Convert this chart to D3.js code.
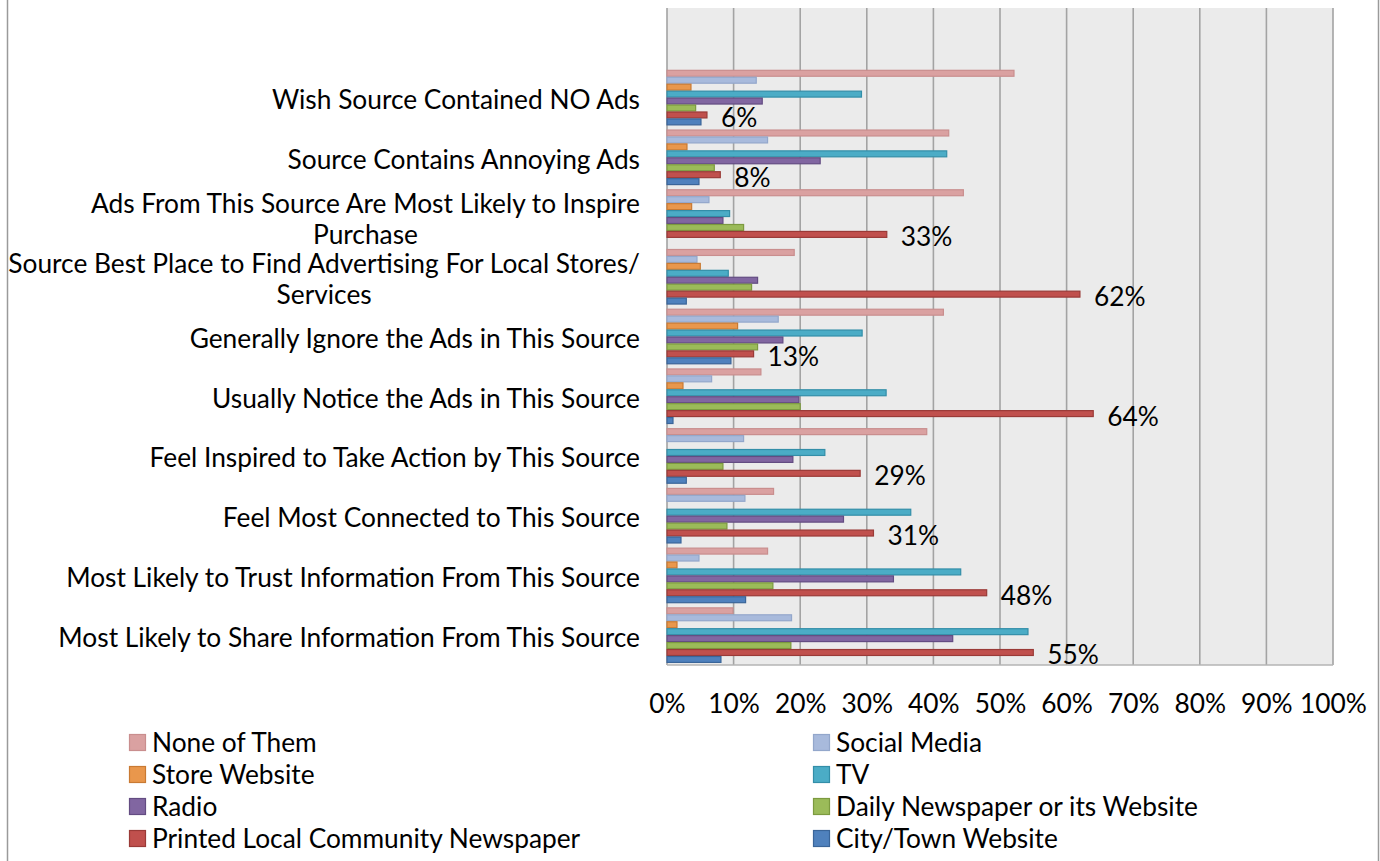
<!DOCTYPE html>
<html>
<head>
<meta charset="utf-8">
<script src="https://cdn.jsdelivr.net/npm/d3@7/dist/d3.min.js"></script>
<style>
  html, body { margin: 0; padding: 0; background: #fff; }
  svg { display: block; }
  text { font-family: Lato, "Open Sans", sans-serif; fill: #000; }
</style>
</head>
<body>
<svg id="chart" width="1380" height="861"></svg>
<script>
// Survey statements (top to bottom)
const categories = [
  "Wish Source Contained NO Ads",
  "Source Contains Annoying Ads",
  "Ads From This Source Are Most Likely to Inspire Purchase",
  "Source Best Place to Find Advertising For Local Stores/ Services",
  "Generally Ignore the Ads in This Source",
  "Usually Notice the Ads in This Source",
  "Feel Inspired to Take Action by This Source",
  "Feel Most Connected to This Source",
  "Most Likely to Trust Information From This Source",
  "Most Likely to Share Information From This Source"
];

// Wrapped lines for the long statements
const categoryLines = [
  ["Wish Source Contained NO Ads"],
  ["Source Contains Annoying Ads"],
  ["Ads From This Source Are Most Likely to Inspire", "Purchase"],
  ["Source Best Place to Find Advertising For Local Stores/", "Services"],
  ["Generally Ignore the Ads in This Source"],
  ["Usually Notice the Ads in This Source"],
  ["Feel Inspired to Take Action by This Source"],
  ["Feel Most Connected to This Source"],
  ["Most Likely to Trust Information From This Source"],
  ["Most Likely to Share Information From This Source"]
];

const seriesNames = [
  "None of Them", "Social Media", "Store Website", "TV",
  "Radio", "Daily Newspaper or its Website",
  "Printed Local Community Newspaper", "City/Town Website"
];

// Percent of respondents, one value per statement
const noneOfThem     = [52.1, 42.3, 44.5, 19.1, 41.5, 14.1, 39.0, 16.0, 15.1,  9.9];
const socialMedia    = [13.4, 15.1,  6.3,  4.5, 16.7,  6.7, 11.5, 11.7,  4.8, 18.7];
const storeWebsite   = [ 3.6,  3.0,  3.7,  5.0, 10.6,  2.4,  0.0,  0.0,  1.5,  1.5];
const tv             = [29.2, 42.0,  9.4,  9.2, 29.3, 32.9, 23.7, 36.6, 44.1, 54.2];
const radio          = [14.3, 23.0,  8.4, 13.6, 17.4, 19.8, 18.9, 26.5, 34.0, 42.9];
const dailyNewspaper = [ 4.3,  7.1, 11.5, 12.7, 13.6, 20.0,  8.4,  9.0, 15.9, 18.6];
const printedLocal   = [ 6,    8,   33,   62,   13,   64,   29,   31,   48,   55];
const cityTown       = [ 5.1,  4.8,  0.0,  2.9,  9.6,  0.9,  2.9,  2.1, 11.8,  8.1];

const seriesValues = [noneOfThem, socialMedia, storeWebsite, tv, radio,
                      dailyNewspaper, printedLocal, cityTown];

const xTicks = [0, 10, 20, 30, 40, 50, 60, 70, 80, 90, 100];

const fills   = ["#daa1a1", "#a8badc", "#e9974c", "#4bacc6", "#8166a1", "#9bbb59", "#c0504d", "#4f81bd"];
const strokes = ["#c98e8e", "#93a7cb", "#c97a33", "#338ea8", "#634c82", "#7c9a3f", "#9a3a37", "#3a6599"];

// Only the community newspaper series carries data labels
const labelledSeries = 6;

const svg = d3.select("#chart");
const W = 1380, H = 861;
const plot = { left: 667, right: 1333, top: 8, bottom: 665 };
const FONT = 26.3;

// Chart-area frame (left and right edges visible)
svg.append("rect")
  .attr("x", 7.5).attr("y", -20)
  .attr("width", 1371).attr("height", H + 40)
  .attr("fill", "#fff").attr("stroke", "#9a9a9a").attr("stroke-width", 1.5);

const x = d3.scaleLinear().domain([0, 100]).range([plot.left, plot.right]);

// One empty slot sits above the first statement
const slots = [""].concat(categories);
const y = d3.scaleBand().domain(slots).range([plot.top, plot.bottom]).padding(0);
const ySeries = d3.scaleBand().domain(seriesNames)
  .range([0, y.bandwidth()]).paddingInner(0).paddingOuter(0.3);

// Plot background
svg.append("rect")
  .attr("x", plot.left).attr("y", plot.top)
  .attr("width", plot.right - plot.left).attr("height", plot.bottom - plot.top)
  .attr("fill", "#ebebeb");

// Vertical gridlines
svg.append("g")
  .selectAll("line")
  .data(xTicks)
  .join("line")
  .attr("x1", d => x(d)).attr("x2", d => x(d))
  .attr("y1", plot.top).attr("y2", plot.bottom)
  .attr("stroke", "#a3a3a3").attr("stroke-width", 1.6);

// Bottom edge of the plot
svg.append("line")
  .attr("x1", plot.left).attr("x2", plot.right)
  .attr("y1", plot.bottom).attr("y2", plot.bottom)
  .attr("stroke", "#b5b5b5").attr("stroke-width", 1.5);

// Bars
const barData = [];
categories.forEach((c, ci) => {
  seriesNames.forEach((s, si) => {
    barData.push({ cat: c, series: s, si, value: seriesValues[si][ci] });
  });
});

svg.append("g")
  .selectAll("rect")
  .data(barData.filter(d => d.value > 0))
  .join("rect")
  .attr("x", x(0))
  .attr("y", d => y(d.cat) + ySeries(d.series) + 0.5)
  .attr("width", d => x(d.value) - x(0))
  .attr("height", ySeries.bandwidth() - 1)
  .attr("fill", d => fills[d.si])
  .attr("stroke", d => strokes[d.si])
  .attr("stroke-width", 1.2);

// Data labels for the community newspaper
svg.append("g")
  .selectAll("text")
  .data(barData.filter(d => d.si === labelledSeries))
  .join("text")
  .attr("x", d => x(d.value) + 14)
  .attr("y", d => y(d.cat) + ySeries(d.series) + ySeries.bandwidth() / 2 + 2)
  .attr("dominant-baseline", "central")
  .attr("font-size", FONT)
  .text(d => d3.format(".0f")(d.value) + "%");

// X axis tick labels
const xAxis = d3.axisBottom(x).tickValues(xTicks).tickSize(0).tickPadding(0)
  .tickFormat(d => d + "%");
const gx = svg.append("g").attr("transform", `translate(0,${plot.bottom})`).call(xAxis);
gx.select(".domain").remove();
gx.selectAll("text")
  .attr("y", 38)
  .attr("dy", null)
  .attr("dominant-baseline", "central")
  .attr("font-size", FONT)
  .attr("font-family", "Lato, 'Open Sans', sans-serif")
  .attr("fill", "#000");

// Category labels, right-aligned block, wrapped lines centred on each other
const labelRight = 640;
const lineH = 31;
const catG = svg.append("g");
categories.forEach((c, ci) => {
  const lines = categoryLines[ci];
  const cy = y(c) + y.bandwidth() / 2 + 1.5;
  const g = catG.append("g");
  const texts = lines.map((ln, li) =>
    g.append("text")
      .attr("y", cy + (li - (lines.length - 1) / 2) * lineH)
      .attr("dominant-baseline", "central")
      .attr("font-size", FONT)
      .text(ln));
  const widths = texts.map(t => t.node().getComputedTextLength());
  const maxW = d3.max(widths);
  const centre = labelRight - maxW / 2;
  texts.forEach(t => t.attr("x", centre).attr("text-anchor", "middle"));
});

// Legend: two columns, four rows
const legendCols = [129, 813];
const legendRows = [743, 775, 807, 839];
const legend = svg.append("g");
seriesNames.forEach((s, i) => {
  const lx = legendCols[i % 2];
  const ly = legendRows[Math.floor(i / 2)];
  legend.append("rect")
    .attr("x", lx + 0.5).attr("y", ly - 8.5)
    .attr("width", 16).attr("height", 16)
    .attr("fill", fills[i]).attr("stroke", strokes[i]).attr("stroke-width", 1.2);
  legend.append("text")
    .attr("x", lx + 23).attr("y", ly - 1)
    .attr("dominant-baseline", "central")
    .attr("font-size", FONT)
    .text(s);
});
</script>
</body>
</html>
